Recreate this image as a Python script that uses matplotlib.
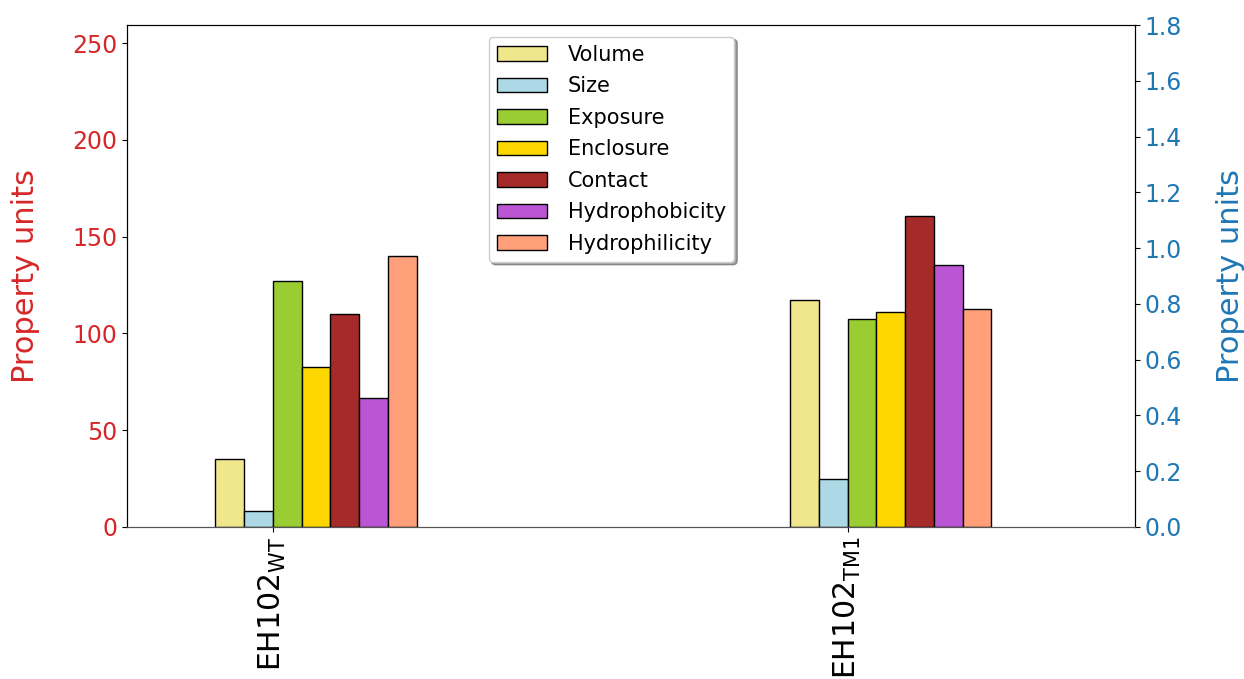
import numpy as np
import matplotlib.pyplot as plt

plt.rcParams['font.family'] = 'DejaVu Sans'

# structures and measured properties
structures = [r'EH102$_{\mathrm{WT}}$', r'EH102$_{\mathrm{TM1}}$']
properties = ['Volume', 'Size', 'Exposure', 'Enclosure', 'Contact',
              'Hydrophobicity', 'Hydrophilicity']
colors = ['khaki', 'lightblue', 'yellowgreen', 'gold', 'brown',
          'mediumorchid', 'lightsalmon']

volume = [35.1, 117.3]
size = [8.3, 25.0]
exposure = [127.0, 107.4]
enclosure = [82.6, 110.8]
contact = [110.0, 160.6]
hydrophobicity = [66.6, 135.3]
hydrophilicity = [140.0, 112.6]

values = [volume, size, exposure, enclosure, contact, hydrophobicity, hydrophilicity]

fig = plt.figure(figsize=(12.44, 6.79), dpi=100)
ax = fig.add_axes([0.102, 0.224, 0.810, 0.739])
ax2 = ax.twinx()

x = np.arange(len(structures))
w = 0.05
for i, (name, vals, c) in enumerate(zip(properties, values, colors)):
    ax.bar(x + (i - 2) * w, vals, width=w, align='edge', color=c,
           edgecolor='black', linewidth=1, label=name)

ax.set_xlim(-0.254, 1.499)
ax.set_ylim(0, 259.3)
ax2.set_ylim(0, 1.8)
ax.set_yticks([0, 50, 100, 150, 200, 250])
ax2.set_yticks(np.arange(0, 1.81, 0.2))
ax2.set_yticklabels(['%.1f' % v for v in np.arange(0, 1.81, 0.2)])

ax.set_xticks(x)
ax.set_xticklabels(structures, rotation=90, fontsize=21.5)

ax.set_ylabel('Property units', color='tab:red', fontsize=22, labelpad=23)
ax2.set_ylabel('Property units', color='tab:blue', fontsize=22, labelpad=25)
ax.tick_params(axis='y', labelcolor='tab:red', labelsize=17)
ax2.tick_params(axis='y', labelcolor='tab:blue', labelsize=17)

for a in (ax, ax2):
    a.spines['bottom'].set_color('#555555')

ax.legend(loc='upper center', bbox_to_anchor=(0.481, 0.998), fontsize=15,
          shadow=True, handlelength=2.4, handletextpad=1.0, labelspacing=0.55)

fig.savefig('out.png')
